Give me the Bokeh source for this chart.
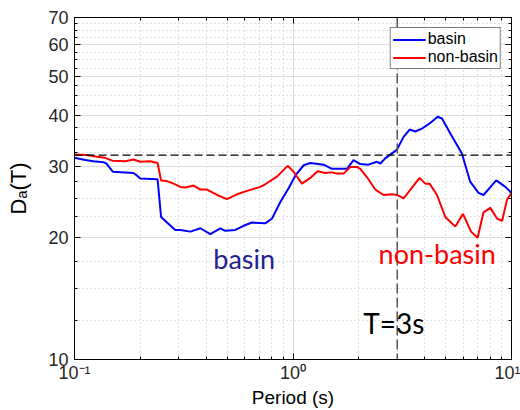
from bokeh.plotting import figure
from bokeh.models import FixedTicker, LogAxis, Span, Legend, LegendItem, Label
from bokeh.embed import file_html
from bokeh.resources import INLINE

# ---- data ----
basin_T = [0.100, 0.112, 0.122, 0.136, 0.140, 0.150, 0.186, 0.193, 0.200, 0.240,
           0.249, 0.289, 0.305, 0.339, 0.377, 0.418, 0.465, 0.490, 0.545, 0.594,
           0.649, 0.746, 0.802, 0.875, 0.955, 1.026, 1.119, 1.200, 1.380, 1.507,
           1.766, 1.892, 2.032, 2.218, 2.421, 2.512, 2.642, 2.992, 3.206, 3.420,
           3.631, 3.890, 4.246, 4.592, 4.808, 5.248, 5.929, 6.471, 7.063, 7.447,
           8.511, 9.376, 10.0]
basin_D = [31.5, 31.1, 30.9, 30.7, 30.5, 29.1, 28.9, 28.5, 28.0, 27.9,
           22.5, 20.9, 20.9, 20.7, 21.1, 20.4, 21.1, 20.8, 20.9, 21.4,
           21.8, 21.7, 22.3, 24.5, 26.5, 28.5, 30.2, 30.6, 30.3, 29.6,
           29.6, 31.1, 30.4, 30.3, 30.8, 30.5, 31.4, 33.0, 35.5, 37.0,
           36.6, 37.2, 38.4, 39.8, 39.4, 36.2, 32.3, 27.5, 25.8, 25.5,
           27.7, 26.7, 25.8]

nonbasin_T = [0.100, 0.114, 0.127, 0.138, 0.149, 0.171, 0.186, 0.200, 0.222, 0.240,
              0.249, 0.265, 0.284, 0.305, 0.322, 0.351, 0.377, 0.404, 0.449, 0.499,
              0.554, 0.616, 0.708, 0.746, 0.845, 0.945, 1.006, 1.099, 1.200, 1.296,
              1.406, 1.507, 1.589, 1.705, 1.828, 1.963, 2.032, 2.182, 2.381, 2.600,
              2.838, 2.992, 3.206, 3.505, 3.795, 4.030, 4.218, 4.560, 4.977, 5.533,
              5.998, 6.531, 6.998, 7.447, 7.998, 8.590, 9.057, 9.533, 10.0]
nonbasin_D = [32.1, 32.0, 31.7, 31.5, 31.0, 30.9, 31.2, 30.8, 30.9, 30.6,
              27.7, 27.6, 27.2, 26.7, 26.6, 26.9, 26.3, 26.3, 25.5, 24.9,
              25.6, 26.1, 26.7, 27.1, 28.3, 30.1, 29.1, 27.2, 28.1, 29.2,
              28.9, 29.0, 28.8, 28.8, 29.9, 29.9, 29.6, 28.2, 26.3, 25.5,
              25.6, 25.5, 25.0, 26.6, 28.1, 27.2, 27.2, 25.5, 22.5, 21.3,
              22.9, 20.7, 20.0, 23.1, 23.7, 22.3, 22.0, 24.8, 25.8]

ref_D = 32.0
ref_T = 3.0

x_major = [0.1, 1, 10]
x_minor = [0.2, 0.3, 0.4, 0.5, 0.6, 0.7, 0.8, 0.9, 2, 3, 4, 5, 6, 7, 8, 9]
x_labels = {0.1: "10\u207b\u00b9", 1: "10\u2070", 10: "10\u00b9"}
y_major = [10, 20, 30, 40, 50, 60, 70]
y_minor = [12.5, 15, 17.5, 22.5, 25, 27.5, 32.5, 35, 37.5, 42.5, 45, 47.5,
           52.5, 55, 57.5, 62.5, 65, 67.5]

FONT = "Liberation Sans"
TXT = "#262626"

p = figure(width=520, height=410, x_axis_type="log", y_axis_type="log",
           x_range=(0.1, 10), y_range=(10, 70),
           output_backend="svg", toolbar_location=None,
           min_border_left=74, min_border_right=9, min_border_top=17, min_border_bottom=50)
p.background_fill_color = "white"
p.border_fill_color = "white"
p.outline_line_color = "black"
p.outline_line_width = 1

xt = FixedTicker(ticks=x_major, minor_ticks=x_minor)
yt = FixedTicker(ticks=y_major, minor_ticks=y_minor)

for g, t in ((p.xgrid, xt), (p.ygrid, yt)):
    g.ticker = t
    g.grid_line_color = "#dcdcdc"
    g.grid_line_width = 1
    g.minor_grid_line_color = "#c4c4c4"
    g.minor_grid_line_dash = "1 3"
    g.minor_grid_line_width = 1

def style_axis(ax, labels=True):
    ax.axis_line_color = "black"
    ax.major_tick_in = 6
    ax.major_tick_out = 0
    ax.minor_tick_in = 3
    ax.minor_tick_out = 0
    ax.major_tick_line_color = "black"
    ax.minor_tick_line_color = "black"
    ax.major_label_text_font = FONT
    ax.major_label_text_color = TXT
    ax.major_label_text_font_size = "18px"
    ax.axis_label_text_font = FONT
    ax.axis_label_text_color = "black"
    ax.axis_label_text_font_style = "normal"
    if not labels:
        ax.major_label_text_font_size = "1px"
        ax.major_label_text_alpha = 0
        ax.major_label_standoff = 0

xa = p.xaxis[0]
xa.ticker = xt
xa.major_label_overrides = x_labels
style_axis(xa)
xa.axis_label = "Period (s)"
xa.axis_label_text_font_size = "19px"
xa.major_label_standoff = 3
xa.axis_label_standoff = 1

ya = p.yaxis[0]
ya.ticker = yt
style_axis(ya)
ya.axis_label = "D\u2090(T)"
ya.axis_label_text_font_size = "22px"
ya.major_label_standoff = 6
ya.axis_label_standoff = 14

ra = LogAxis(ticker=yt)
style_axis(ra, labels=False)
p.add_layout(ra, "right")
ta = LogAxis(ticker=xt)
style_axis(ta, labels=False)
p.add_layout(ta, "above")

# reference lines
p.add_layout(Span(location=ref_T, dimension="height", line_color="#555555",
                  line_width=1.5, line_dash="10 4"))
p.add_layout(Span(location=ref_D, dimension="width", line_color="black",
                  line_width=1.3, line_dash="8 4"))

r1 = p.line(basin_T, basin_D, line_color="#0000ff", line_width=2)
r2 = p.line(nonbasin_T, nonbasin_D, line_color="#ff0000", line_width=2)

legend = Legend(items=[LegendItem(label="basin", renderers=[r1]),
                       LegendItem(label="non-basin", renderers=[r2])],
                location="top_right")
legend.label_text_font = FONT
legend.label_text_font_size = "16px"
legend.label_text_color = "black"
legend.border_line_color = "black"
legend.border_line_width = 1
legend.background_fill_alpha = 1
legend.glyph_width = 33
legend.glyph_height = 15
legend.label_height = 15
legend.label_standoff = 2
legend.padding = 2
legend.spacing = 0
legend.margin = 10
p.add_layout(legend)

ann_font = "Lato"
p.add_layout(Label(x=0.598, y=17.78, text="basin", text_color="#22228f",
                   text_font=ann_font, text_font_size="27px", text_align="center",
                   text_baseline="alphabetic"))
p.add_layout(Label(x=4.57, y=18.25, text="non-basin", text_color="#ff0000",
                   text_font=ann_font, text_font_size="27px", text_align="center",
                   text_baseline="alphabetic"))
p.add_layout(Label(x=2.89, y=12.28, text="T=3s", text_color="black",
                   text_font=ann_font, text_font_size="28px", text_align="center",
                   text_baseline="alphabetic"))

open("out.html", "w").write(file_html(p, INLINE))
